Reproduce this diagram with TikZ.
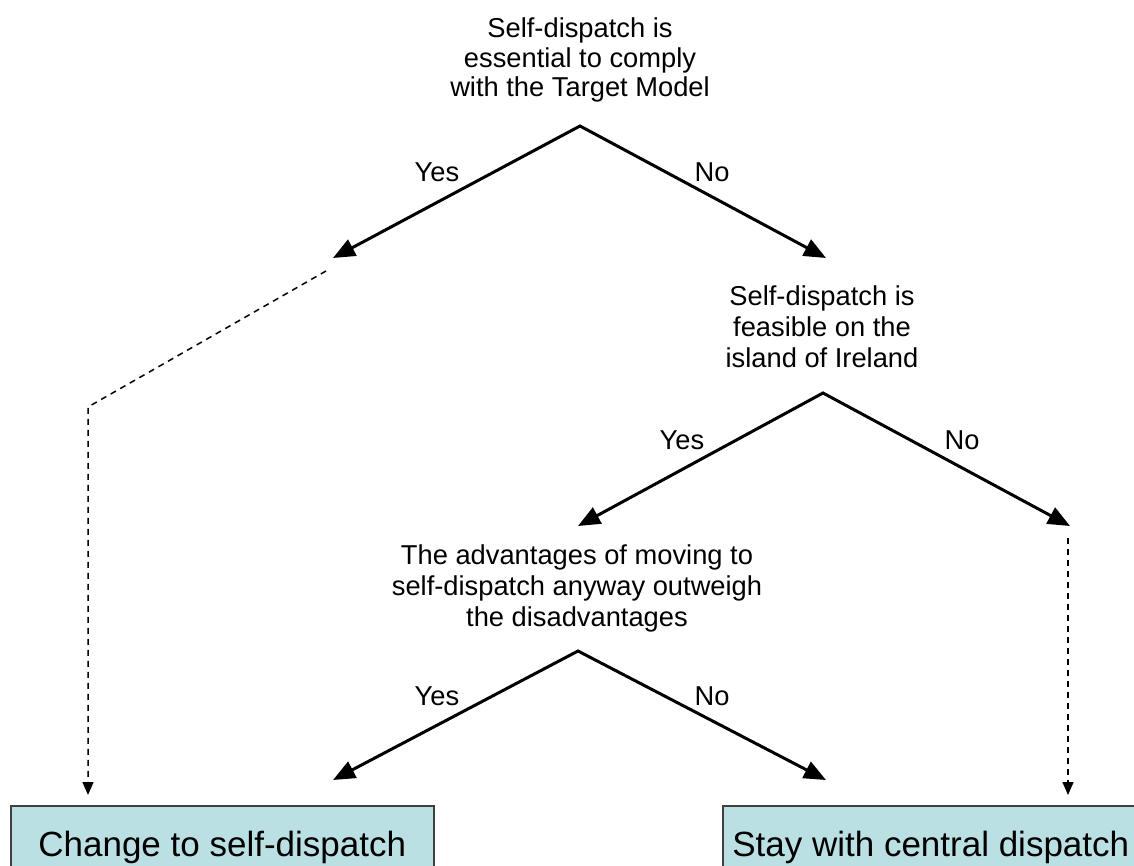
\documentclass[tikz,border=0pt]{standalone}
\usepackage{fontspec}
\setmainfont{Liberation Sans}
\usetikzlibrary{arrows.meta}
\definecolor{boxfill}{HTML}{BBE0E3}
\definecolor{boxline}{HTML}{404040}
\tikzset{
  qtext/.style={align=center, inner sep=0pt, font=\fontsize{27.3}{31}\selectfont},
  lbl/.style={inner sep=0pt, font=\fontsize{27.3}{31}\selectfont},
  branch/.style={line width=3pt, line join=miter, {Triangle[length=22pt,width=18pt]}-{Triangle[length=22pt,width=18pt]}},
  dashlink/.style={line width=1.5pt, dash pattern=on 6pt off 5pt, -{Triangle[length=13pt,width=11pt]}},
  endbox/.style={draw=boxline, fill=boxfill, line width=1.5pt, minimum height=84pt, inner sep=0pt, font=\fontsize{35}{40}\selectfont}
}
\begin{document}
\begin{tikzpicture}[x=1pt,y=-1pt]
\useasboundingbox (0,0) rectangle (1134,866);
\clip (0,0) rectangle (1134,866);
% questions
\node[qtext, font=\fontsize{27.3}{29.5}\selectfont] (q1) at (580,60) {Self-dispatch is\\essential to comply\\with the Target Model};
\node[qtext] (q2) at (822,327) {Self-dispatch is\\feasible on the\\island of Ireland};
\node[qtext] (q3) at (577,588) {The advantages of moving to\\self-dispatch anyway outweigh\\the disadvantages};
% apexes and tips
\coordinate (a1) at (580,126);
\coordinate (y1) at (333,258);
\coordinate (n1) at (826,258);
\coordinate (a2) at (823,393);
\coordinate (y2) at (578,526);
\coordinate (n2) at (1070,526);
\coordinate (a3) at (578,651);
\coordinate (y3) at (333,780);
\coordinate (n3) at (826,780);
\draw[branch] (y1) -- (a1) -- (n1);
\draw[branch] (y2) -- (a2) -- (n2);
\draw[branch] (y3) -- (a3) -- (n3);
% labels
\node[lbl] (ly1) at (437,172) {Yes};
\node[lbl] (ln1) at (712,172) {No};
\node[lbl] (ly2) at (682,440) {Yes};
\node[lbl] (ln2) at (962,440) {No};
\node[lbl] (ly3) at (437,696) {Yes};
\node[lbl] (ln3) at (712,696) {No};
% result boxes
\node[endbox, anchor=north west, minimum width=423pt] (change) at (10,805) {Change to self-dispatch};
\node[endbox, anchor=north west, minimum width=416pt] (stay) at (722,805) {Stay with central dispatch};
% dashed links
\coordinate (d1s) at (326,271);
\coordinate (d1c) at (88,407);
\coordinate (d1e) at (88,795);
\coordinate (d2s) at (1068,538);
\coordinate (d2e) at (1068,795);
\draw[dashlink] (d1s) -- (d1c) -- (d1e);
\draw[dashlink] (d2s) -- (d2e);
\end{tikzpicture}
\end{document}
